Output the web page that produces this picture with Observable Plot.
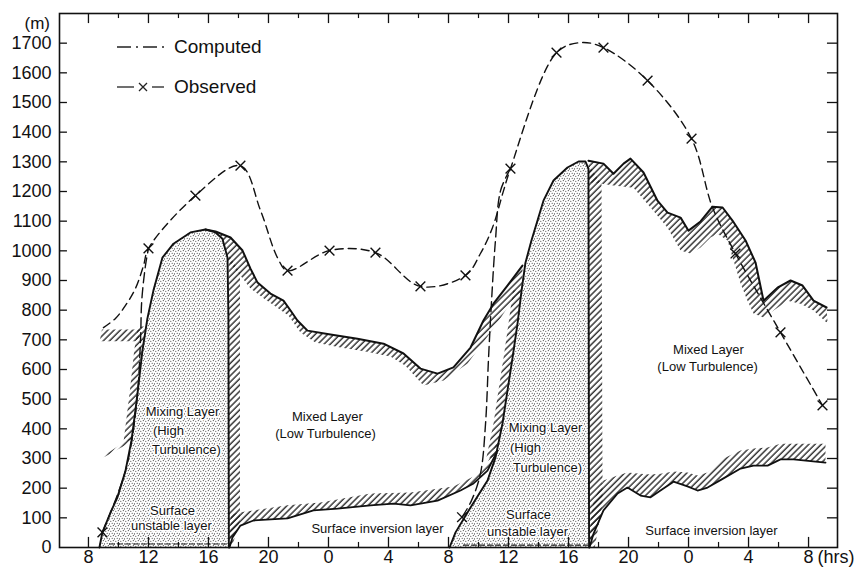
<!DOCTYPE html>
<html>
<head>
<meta charset="utf-8">
<script src="https://cdn.jsdelivr.net/npm/d3@7"></script>
<script src="https://cdn.jsdelivr.net/npm/@observablehq/plot@0.6"></script>
<style>
  html, body { margin: 0; padding: 0; background: #fff; }
  #wrap { position: relative; width: 856px; height: 576px; font-family: "Liberation Sans", Arial, sans-serif; color: #111; }
  #legend { position: absolute; left: 114px; top: 30px; font-size: 19px; }
  #legend .row { position: absolute; left: 0; white-space: nowrap; height: 24px; }
  #legend svg { position: absolute; left: 0; top: 0; }
  #legend span { position: absolute; left: 60px; top: 1px; }
</style>
</head>
<body>
<svg width="0" height="0" style="position:absolute">
  <defs>
    <pattern id="hatch" width="4.4" height="4.4" patternUnits="userSpaceOnUse" patternTransform="rotate(45)">
      <line x1="1" y1="0" x2="1" y2="4.4" stroke="#1a1a1a" stroke-width="1.3"/>
    </pattern>
    <pattern id="stipple" width="5" height="5" patternUnits="userSpaceOnUse">
      <rect width="5" height="5" fill="#fff"/>
      <circle cx="0.8" cy="1.2" r="0.55" fill="#2a2a2a"/>
      <circle cx="3.3" cy="0.6" r="0.55" fill="#2a2a2a"/>
      <circle cx="2.2" cy="3.3" r="0.55" fill="#2a2a2a"/>
      <circle cx="4.4" cy="3.9" r="0.55" fill="#2a2a2a"/>
    </pattern>
  </defs>
</svg>
<div id="wrap">
  <div id="chart"></div>
  <div id="legend">
    <div class="row" style="top:5px">
      <svg width="56" height="24"><line x1="3" y1="12" x2="52" y2="12" stroke="#222" stroke-width="1.3" stroke-dasharray="14,5,2,5"/></svg>
      <span>Computed</span>
    </div>
    <div class="row" style="top:45px">
      <svg width="56" height="24">
        <line x1="3" y1="12" x2="20" y2="12" stroke="#222" stroke-width="1.3"/>
        <path d="M25,8 L33,16 M33,8 L25,16" stroke="#222" stroke-width="1.3"/>
        <line x1="38" y1="12" x2="50" y2="12" stroke="#222" stroke-width="1.3"/>
      </svg>
      <span>Observed</span>
    </div>
  </div>
</div>
<script>
// ---------- axis ticks ----------
const xTickHours = [8, 12, 16, 20, 24, 28, 32, 36, 40, 44, 48, 52, 56];
const xTickLabels = ["8", "12", "16", "20", "0", "4", "8", "12", "16", "20", "0", "4", "8"];
const xMinorHours = [10, 14, 18, 22, 26, 30, 34, 38, 42, 46, 50, 54];
const yTicks = [0, 100, 200, 300, 400, 500, 600, 700, 800, 900, 1000, 1100, 1200, 1300, 1400, 1500, 1600, 1700];

// ---------- observed (dashed with x markers) ----------
const obsT = [8.93, 12.0, 15.13, 18.13, 21.27, 24.07, 27.13, 30.13, 33.13, 32.9, 36.13, 39.2, 42.33, 45.27, 48.2, 51.13, 54.13, 56.93];
const obsV = [51, 1008, 1186, 1287, 933, 1001, 994, 880, 917, 102, 1277, 1668, 1685, 1574, 1378, 991, 725, 479];
// traced path of the observed curve
const obsPathT = [9.0, 9.8, 10.47, 11.13, 11.67, 12.0, 15.13, 18.13, 19.47, 20.6, 21.27, 24.07, 27.13, 30.13, 33.13, 34.13, 34.93, 35.67, 36.13, 39.2, 40.8, 42.33, 45.27, 48.2, 49.6, 51.13, 54.13, 56.93];
const obsPathV = [741, 772, 816, 873, 950, 1008, 1186, 1287, 1136, 977, 933, 1001, 994, 880, 917, 991, 1078, 1203, 1277, 1668, 1702, 1685, 1574, 1378, 1146, 991, 725, 479];
// morning rise from the ground
const rise1T = [8.93, 10.47, 11.2, 11.47, 11.55, 11.8, 12.0];
const rise1V = [51, 259, 480, 700, 830, 950, 1008];
const rise2T = [32.9, 33.53, 34.13, 34.47, 34.67, 34.87, 35.13, 35.47, 36.13];
const rise2V = [102, 158, 249, 418, 640, 832, 1035, 1203, 1277];

// ---------- mixing layer (stippled) ----------
const stip1T = [8.73, 8.93, 9.47, 9.93, 10.47, 10.87, 11.13, 11.33, 11.6, 11.93, 12.33, 12.93, 13.67, 14.8, 15.8, 16.47, 16.93, 17.27, 17.33, 17.36];
const stip1V = [0, 51, 118, 169, 259, 361, 462, 546, 664, 772, 866, 977, 1024, 1062, 1072, 1062, 1041, 977, 775, 0];
const stip2T = [32.07, 32.47, 33.47, 34.6, 35.13, 35.6, 35.93, 36.27, 36.6, 36.87, 37.13, 37.53, 38.33, 39.0, 39.93, 40.67, 41.13, 41.33, 41.37];
const stip2V = [0, 51, 135, 226, 303, 418, 529, 640, 755, 866, 960, 1035, 1169, 1237, 1281, 1301, 1301, 1277, 0];

// ---------- mixed layer top (solid line, hatch below) ----------
const mix1T = [15.8, 16.47, 17.47, 18.27, 18.8, 19.27, 20.13, 21.0, 21.47, 21.93, 22.6, 24.13, 25.93, 27.67, 29.0, 30.13, 31.27, 32.33, 33.47, 34.33, 35.0, 35.93, 36.93];
const mix1V = [1072, 1065, 1045, 1001, 940, 893, 856, 832, 799, 765, 731, 718, 704, 687, 654, 603, 586, 607, 674, 765, 822, 883, 950];
const mix1BotT = [17.4, 18.13, 18.8, 19.6, 20.47, 21.33, 22.13, 23.13, 24.8, 26.47, 28.13, 29.13, 30.33, 31.67, 33.27, 34.8, 35.67, 36.47, 36.93];
const mix1BotV = [960, 917, 873, 843, 812, 782, 725, 691, 674, 661, 644, 613, 546, 563, 620, 725, 789, 849, 866];
const mix2T = [41.33, 42.33, 43.0, 43.67, 44.13, 45.0, 45.93, 46.6, 47.47, 48.0, 48.8, 49.6, 50.27, 50.93, 51.8, 52.47, 53.0, 53.93, 54.8, 55.6, 56.33, 57.2];
const mix2V = [1304, 1294, 1260, 1294, 1311, 1264, 1169, 1129, 1112, 1068, 1099, 1149, 1146, 1102, 1035, 960, 832, 876, 900, 883, 832, 809];
const mix2BotT = [41.35, 42.13, 43.0, 44.33, 45.47, 46.6, 47.47, 48.13, 48.8, 49.47, 49.93, 50.6, 51.0, 51.47, 51.93, 52.33, 53.0, 53.67, 54.6, 55.47, 56.33, 57.27];
const mix2BotV = [1230, 1227, 1220, 1213, 1146, 1078, 1001, 991, 1011, 1045, 1058, 1035, 967, 890, 832, 789, 775, 799, 832, 822, 799, 755];

// ---------- surface inversion top (solid line, hatch above) ----------
const inv1T = [17.4, 17.6, 18.13, 19.0, 21.27, 23.0, 24.6, 26.8, 28.33, 29.47, 31.27, 32.8, 33.67, 34.6, 35.27];
const inv1V = [0, 34, 74, 91, 98, 125, 131, 142, 148, 142, 158, 192, 216, 259, 327];
const inv1TopT = [17.5, 18.0, 19.0, 21.27, 23.47, 26.8, 29.47, 32.33, 33.67, 34.6, 35.27, 35.6];
const inv1TopV = [110, 118, 125, 142, 152, 182, 185, 206, 239, 286, 361, 428];
const inv2T = [41.4, 41.67, 42.33, 43.27, 43.93, 44.8, 45.47, 46.13, 47.0, 47.93, 48.6, 49.27, 50.33, 51.47, 52.33, 53.27, 54.13, 55.0, 57.13];
const inv2V = [0, 47, 125, 182, 202, 175, 169, 192, 222, 206, 192, 202, 233, 266, 276, 276, 297, 297, 286];
const inv2TopT = [41.5, 41.67, 42.33, 43.27, 43.93, 44.8, 45.47, 46.13, 47.0, 47.93, 48.6, 49.27, 50.33, 51.47, 52.33, 53.27, 54.13, 55.0, 57.13];
const inv2TopV = [100, 158, 226, 243, 253, 249, 246, 249, 256, 253, 243, 253, 300, 327, 334, 337, 350, 350, 350];

// ---------- small hatched strips ----------
const vStrip1T = [17.33, 17.33, 18.1, 18.1, 17.55];
const vStrip1V = [0, 990, 925, 90, 0];
const vStrip2T = [41.35, 41.35, 42.2, 42.27, 41.75];
const vStrip2V = [0, 1290, 1225, 150, 0];
const lStrip1T = [10.87, 11.13, 11.33, 11.6, 11.85, 11.3, 11.05, 10.8, 10.6, 10.35];
const lStrip1V = [361, 462, 546, 664, 745, 745, 664, 546, 462, 361];
const lStrip2T = [35.13, 35.6, 35.93, 36.27, 36.6, 36.87, 36.3, 36.0, 35.67, 35.33, 35.0, 34.53];
const lStrip2V = [303, 418, 529, 640, 755, 866, 866, 755, 640, 529, 418, 303];
const resid1T = [8.75, 11.35, 11.45, 8.9];
const resid1V = [695, 695, 735, 735];
const inv0T = [9.0, 11.0, 11.27, 9.33];
const inv0V = [303, 361, 384, 320];

// surface unstable layer top (dashed)
const surf1T = [9.4, 17.2];
const surf1V = [12, 12];
const surf2T = [33.0, 41.3];
const surf2V = [8, 8];

// ---------- labels ----------
const labelText = ["Mixing Layer", "(High", "Turbulence)", "Surface", "unstable layer",
  "Mixed Layer", "(Low Turbulence)", "Surface inversion layer",
  "Mixing Layer", "(High", "Turbulence)", "Surface", "unstable layer",
  "Mixed Layer", "(Low Turbulence)", "Surface inversion layer"];
const labelT = [14.27, 13.33, 14.53, 13.6, 13.53, 23.93, 23.8, 27.27, 38.47, 37.13, 38.6, 37.33, 37.27, 49.33, 49.27, 49.53];
const labelV = [458, 392, 330, 125, 74, 441, 384, 64, 404, 336, 268, 110, 54, 667, 610, 57];
const labelHalo = [1, 1, 1, 1, 1, 0, 0, 0, 1, 1, 1, 1, 1, 0, 0, 0];

// ---------- build ----------
const xMin = 6.07, xMax = 57.93, yMax = 1800;
const P = (ts, vs) => ts.map((t, i) => ({t, v: vs[i]}));
const band = (aT, aV, bT, bV) => P(aT, aV).concat(P(bT, bV).reverse());
const hatchPolys = [
  band(mix1T, mix1V, mix1BotT, mix1BotV),
  band(mix2T, mix2V, mix2BotT, mix2BotV),
  band(inv1T, inv1V, inv1TopT, inv1TopV),
  band(inv2T, inv2V, inv2TopT, inv2TopV),
  P(vStrip1T, vStrip1V), P(vStrip2T, vStrip2V),
  P(lStrip1T, lStrip1V), P(lStrip2T, lStrip2V),
  P(resid1T, resid1V), P(inv0T, inv0V)
];
const labels = labelText.map((s, i) => ({s, t: labelT[i], v: labelV[i], halo: labelHalo[i]}));
const font = "Liberation Sans, Arial, Helvetica, sans-serif";

const marks = [];
for (const poly of hatchPolys) {
  marks.push(Plot.line(poly, {x: "t", y: "v", fill: "url(#hatch)", stroke: "none", curve: "linear"}));
}
marks.push(
  Plot.areaY(P(stip1T, stip1V), {x: "t", y: "v", fill: "url(#stipple)", curve: "linear"}),
  Plot.areaY(P(stip2T, stip2V), {x: "t", y: "v", fill: "url(#stipple)", curve: "linear"}),
  Plot.line(P(stip1T, stip1V), {x: "t", y: "v", stroke: "#111", strokeWidth: 1.9}),
  Plot.line(P(stip2T, stip2V), {x: "t", y: "v", stroke: "#111", strokeWidth: 1.9}),
  Plot.line(P(mix1T, mix1V), {x: "t", y: "v", stroke: "#111", strokeWidth: 2}),
  Plot.line(P(mix2T, mix2V), {x: "t", y: "v", stroke: "#111", strokeWidth: 2}),
  Plot.line(P(inv1T, inv1V), {x: "t", y: "v", stroke: "#111", strokeWidth: 1.8}),
  Plot.line(P(inv2T, inv2V), {x: "t", y: "v", stroke: "#111", strokeWidth: 1.8}),
  Plot.line(P(surf1T, surf1V), {x: "t", y: "v", stroke: "#222", strokeWidth: 1.1, strokeDasharray: "5,3"}),
  Plot.line(P(surf2T, surf2V), {x: "t", y: "v", stroke: "#222", strokeWidth: 1.1, strokeDasharray: "5,3"}),
  Plot.line(P(obsPathT, obsPathV), {x: "t", y: "v", curve: "catmull-rom", stroke: "#111", strokeWidth: 1.4, strokeDasharray: "8,5"}),
  Plot.line(P(rise1T, rise1V), {x: "t", y: "v", curve: "catmull-rom", stroke: "#111", strokeWidth: 1.4, strokeDasharray: "10,5"}),
  Plot.line(P(rise2T, rise2V), {x: "t", y: "v", curve: "catmull-rom", stroke: "#111", strokeWidth: 1.4, strokeDasharray: "10,5"}),
  Plot.dot(P(obsT, obsV), {x: "t", y: "v", symbol: "times", r: 4.5, stroke: "#111", strokeWidth: 1.4}),
  // labels
  Plot.text(labels.filter(d => d.halo), {x: "t", y: "v", text: "s", fontSize: 13, fill: "#111", stroke: "white", strokeWidth: 3}),
  Plot.text(labels.filter(d => !d.halo), {x: "t", y: "v", text: "s", fontSize: 13, fill: "#111"}),
  // frame and inward ticks
  Plot.frame({stroke: "#111", strokeWidth: 1.6}),
  Plot.ruleX(xTickHours, {x: d => d, y1: 0, y2: 34, stroke: "#111", strokeWidth: 1.3}),
  Plot.ruleX(xMinorHours, {x: d => d, y1: 0, y2: 17, stroke: "#111", strokeWidth: 1.2}),
  Plot.ruleX(xTickHours, {x: d => d, y1: yMax, y2: yMax - 34, stroke: "#111", strokeWidth: 1.3}),
  Plot.ruleX(xMinorHours, {x: d => d, y1: yMax, y2: yMax - 17, stroke: "#111", strokeWidth: 1.2}),
  Plot.ruleY(yTicks.slice(1), {y: d => d, x1: xMin, x2: xMin + 0.53, stroke: "#111", strokeWidth: 1.3}),
  Plot.ruleY(yTicks.slice(1), {y: d => d, x1: xMax - 0.67, x2: xMax, stroke: "#111", strokeWidth: 1.3}),
  // axis labels
  Plot.text(yTicks, {y: d => d, frameAnchor: "left", dx: -8, textAnchor: "end", text: d => String(d), fontSize: 18, fill: "#111"}),
  Plot.text(xTickHours, {x: d => d, frameAnchor: "bottom", dy: 15, text: (d, i) => xTickLabels[i], fontSize: 18, fill: "#111"}),
  Plot.text(["(hrs)"], {x: () => 56, frameAnchor: "bottom", dx: 9, dy: 15, textAnchor: "start", text: d => d, fontSize: 18, fill: "#111"}),
  Plot.text(["(m)"], {frameAnchor: "top-left", dx: -35, dy: 3, text: d => d, fontSize: 17, fill: "#111"})
);

const chart = Plot.plot({
  width: 856,
  height: 576,
  marginLeft: 59,
  marginRight: 19,
  marginTop: 13,
  marginBottom: 29,
  x: {domain: [xMin, xMax], axis: null},
  y: {domain: [0, yMax], axis: null},
  style: {fontFamily: font, background: "white", color: "#111", overflow: "visible"},
  marks
});
document.getElementById("chart").appendChild(chart);
</script>
</body>
</html>
